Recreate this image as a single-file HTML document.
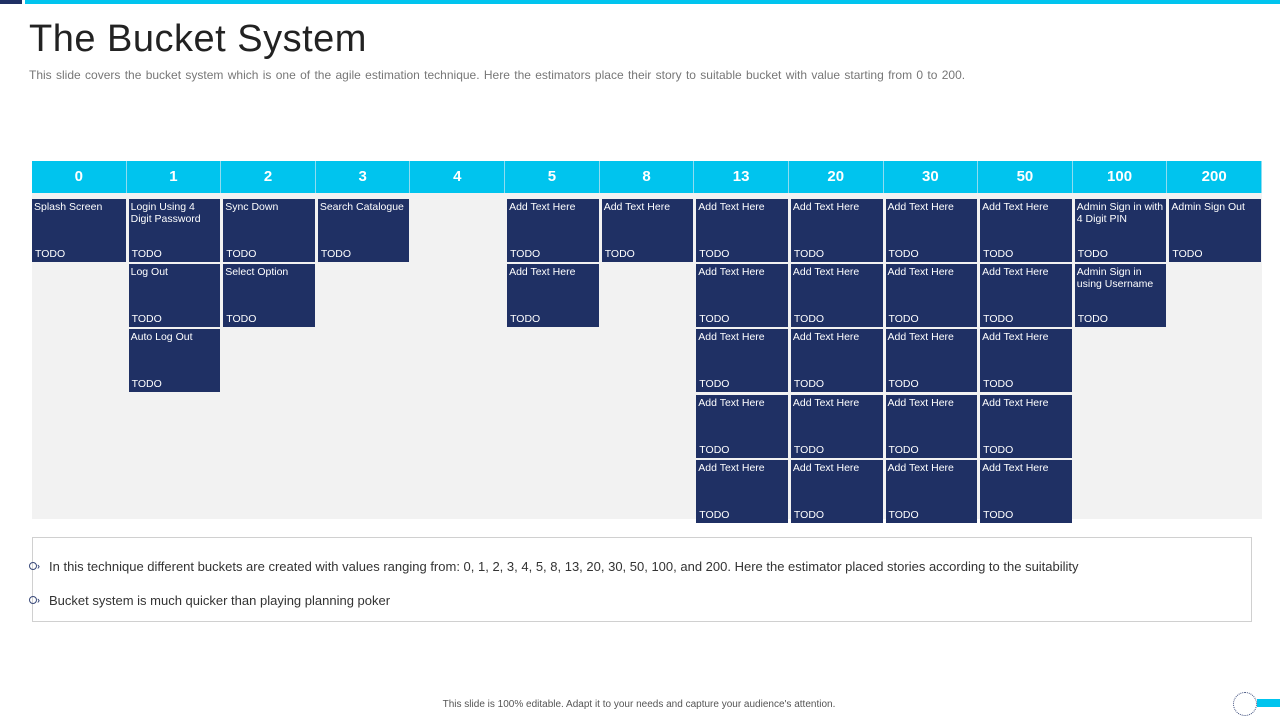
<!DOCTYPE html>
<html><head><meta charset="utf-8"><style>
*{margin:0;padding:0;box-sizing:border-box}
body{width:1280px;height:720px;position:relative;background:#fff;font-family:"Liberation Sans",sans-serif;overflow:hidden}
.abs{position:absolute}
.hdr{position:absolute;top:161px;height:32px;background:#00c4ee;color:#fff;font-weight:bold;font-size:15px;text-align:center;line-height:32px;border-right:1px solid #8fdcf0}
.card{position:absolute;background:#1f3064;color:#fff;font-size:10.5px;height:63px}
.card .t{position:absolute;left:2px;top:2px;right:2px;line-height:12px}
.card .d{position:absolute;left:3px;bottom:2px}
.bul{position:absolute;left:49px;font-size:13px;color:#333}
.mk{position:absolute;left:29px;width:8px;height:8px;border:1.5px solid #3a4a7a;border-radius:50%}
.ar{position:absolute;left:37px;font-size:9px;color:#3a4a7a;font-weight:bold}
</style></head><body>
<div class="abs" style="left:0;top:0;width:22px;height:4px;background:#1f3064"></div>
<div class="abs" style="left:25px;top:0;width:1255px;height:4px;background:#00c4ee"></div>
<div class="abs" style="left:29px;top:18px;font-size:38px;color:#222;letter-spacing:0.5px">The Bucket System</div>
<div class="abs" style="left:29px;top:68px;font-size:12px;color:#777;word-spacing:1px">This slide covers the bucket system which is one of the agile estimation technique. Here the estimators place their story to suitable bucket with value starting from 0 to 200.</div>
<div class="abs" style="left:32px;top:193px;width:1230px;height:326px;background:#f2f2f2"></div>
<div id="grid"></div>
<div class="abs" style="left:32px;top:537px;width:1220px;height:85px;border:1px solid #d0d0d0"></div>
<div class="mk" style="top:562px"></div><div class="ar" style="top:561px">›</div>
<div class="bul" style="top:559px">In this technique different buckets are created with values ranging from: 0, 1, 2, 3, 4, 5, 8, 13, 20, 30, 50, 100, and 200. Here the estimator placed stories according to the suitability</div>
<div class="mk" style="top:596px"></div><div class="ar" style="top:595px">›</div>
<div class="bul" style="top:593px">Bucket system is much quicker than playing planning poker</div>
<div class="abs" style="left:0;width:1278px;top:699px;text-align:center;font-size:10px;color:#555">This slide is 100% editable. Adapt it to your needs and capture your audience's attention.</div>
<div class="abs" style="left:1233px;top:692px;width:24px;height:24px;border:1px dotted #3a4a7a;border-radius:50%"></div>
<div class="abs" style="left:1257px;top:699px;width:23px;height:8px;background:#00c4ee"></div>
<script>
const buckets=["0","1","2","3","4","5","8","13","20","30","50","100","200"];
const stories=[
 [["Splash Screen"]],
 [["Login Using 4 Digit Password"],["Log Out"],["Auto Log Out"]],
 [["Sync Down"],["Select Option"]],
 [["Search Catalogue"]],
 [],
 [["Add Text Here"],["Add Text Here"]],
 [["Add Text Here"]],
 [["Add Text Here"],["Add Text Here"],["Add Text Here"],["Add Text Here"],["Add Text Here"]],
 [["Add Text Here"],["Add Text Here"],["Add Text Here"],["Add Text Here"],["Add Text Here"]],
 [["Add Text Here"],["Add Text Here"],["Add Text Here"],["Add Text Here"],["Add Text Here"]],
 [["Add Text Here"],["Add Text Here"],["Add Text Here"],["Add Text Here"],["Add Text Here"]],
 [["Admin Sign in with 4 Digit PIN"],["Admin Sign in using Username"]],
 [["Admin Sign Out"]]
];
const g=document.getElementById('grid');
const x0=32,cw=(1262-32)/13;
buckets.forEach((b,i)=>{
 const h=document.createElement('div');
 h.className='hdr';
 
 
 h.style.left=(x0+i*cw)+'px';h.style.width=cw+'px';h.textContent=b;
 g.appendChild(h);
 stories[i].forEach((s,j)=>{
  const c=document.createElement('div');
  c.className='card';
  
  
  c.style.left=(x0+i*cw+(i?2:0))+'px';
  c.style.width=(cw-(i?3:1))+'px';
  c.style.top=(199+j*65.2)+'px';
  c.innerHTML='<div class="t">'+s[0]+'</div><div class="d">TODO</div>';
  g.appendChild(c);
 });
});
</script>
</body></html>
